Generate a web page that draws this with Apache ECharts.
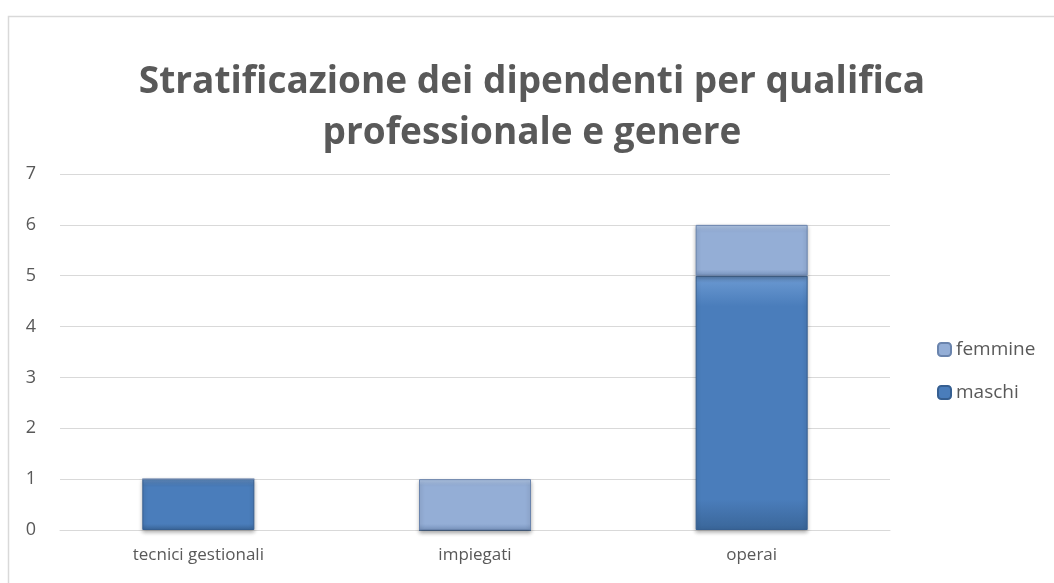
<!DOCTYPE html>
<html><head><meta charset="utf-8">
<script src="https://cdn.jsdelivr.net/npm/echarts@6/dist/echarts.min.js"></script>
<style>html,body{margin:0;padding:0;background:#fff;}#c{width:1054px;height:583px;}</style>
</head><body><div id="c"></div>
<script>
const categories = ['tecnici gestionali', 'impiegati', 'operai'];
const maschi = [1, 0, 5];
const femmine = [0, 1, 1];
const yTicks = [0, 1, 2, 3, 4, 5, 6, 7];

const chart = echarts.init(document.getElementById('c'));
function grad(top, mid, bot) {
  return new echarts.graphic.LinearGradient(0, 0, 0, 1, [
    {offset: 0, color: top}, {offset: 0.12, color: mid}, {offset: 0.88, color: mid}, {offset: 1, color: bot}
  ]);
}
const font = '"Open Sans", "Noto Sans", sans-serif';
chart.setOption({
  animation: false,
  textStyle: {fontFamily: font},
  title: {
    text: 'Stratificazione dei dipendenti per qualifica\nprofessionale e genere',
    left: 527, top: 52, textAlign: 'center',
    textStyle: {fontSize: 37, fontWeight: 'bold', color: '#595959', lineHeight: 51, fontFamily: font}
  },
  graphic: [{type: 'rect', shape: {x: 8.5, y: 16.5, width: 1100, height: 700}, style: {fill: 'none', stroke: '#d9d9d9', lineWidth: 1.5}, silent: true}],
  legend: {
    orient: 'vertical', left: 932, top: 335, itemGap: 24, itemWidth: 13, itemHeight: 13,
    data: ['femmine', 'maschi'],
    textStyle: {fontSize: 19, color: '#595959', fontFamily: font}
  },
  grid: {left: 60, right: 164, top: 174, bottom: 53, containLabel: false},
  xAxis: {
    type: 'category', data: categories,
    axisLine: {show: true, lineStyle: {color: '#d9d9d9'}}, axisTick: {show: false},
    axisLabel: {fontSize: 17, color: '#595959', margin: 17}
  },
  yAxis: {
    type: 'value', min: 0, max: 7, interval: 1,
    axisLine: {show: false}, axisTick: {show: false},
    splitLine: {lineStyle: {color: '#d9d9d9', width: 1}},
    axisLabel: {fontSize: 18, color: '#595959', margin: 24, formatter: v => yTicks.includes(v) ? String(v) : ''}
  },
  series: [
    {name: 'maschi', type: 'bar', stack: 't', data: maschi, barWidth: 112,
     itemStyle: {color: grad('#6d9bd3', '#4a7dbb', '#3a6699'), borderColor: '#365f91', borderWidth: 1, shadowBlur: 4, shadowColor: 'rgba(0,0,0,0.3)', shadowOffsetY: 2}},
    {name: 'femmine', type: 'bar', stack: 't', data: femmine, barWidth: 112,
     itemStyle: {color: grad('#b3c8e6', '#94aed6', '#7a95bf'), borderColor: '#6a84ad', borderWidth: 1, shadowBlur: 4, shadowColor: 'rgba(0,0,0,0.3)', shadowOffsetY: 2}}
  ]
});
</script></body></html>
